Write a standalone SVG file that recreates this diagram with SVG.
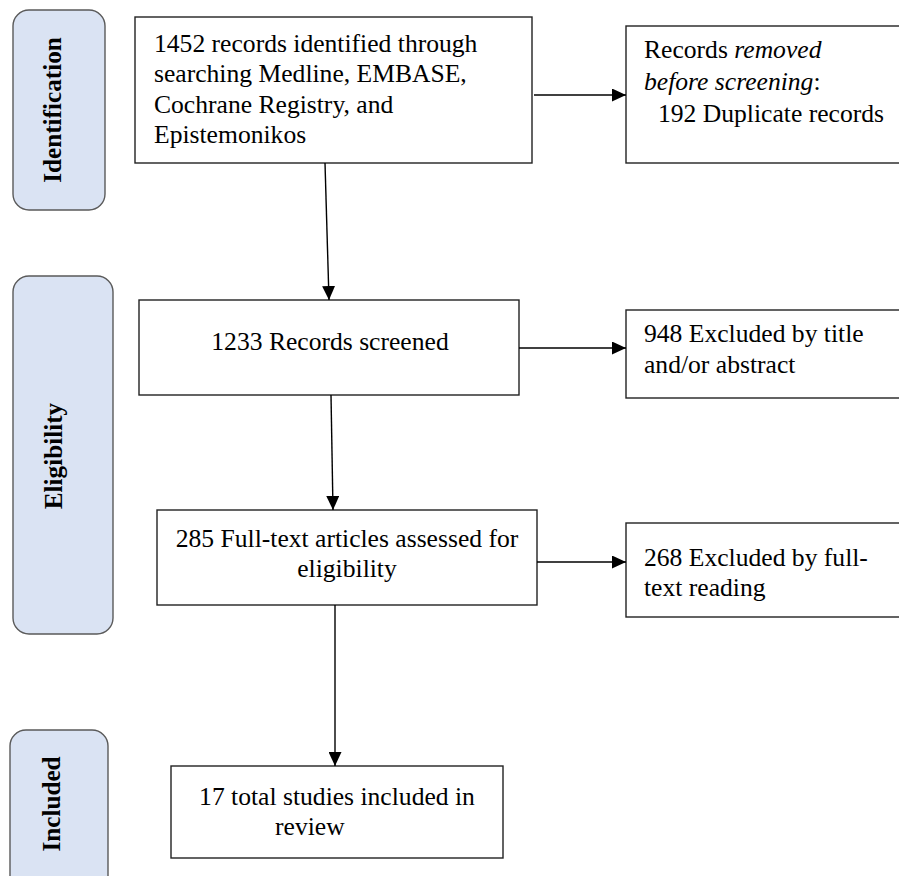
<svg xmlns="http://www.w3.org/2000/svg" width="899" height="876" viewBox="0 0 899 876">
<style>
.box{fill:#fff;stroke:#222;stroke-width:1.4}
.side{fill:#dae3f3;stroke:#5a5a5a;stroke-width:1.4}
.t{font-family:'Liberation Serif','Times New Roman',serif;font-size:25.6px;fill:#000}
.st{font-family:'Liberation Serif','Times New Roman',serif;font-size:25.2px;font-weight:bold;fill:#000}
.c{text-anchor:middle}
.con{stroke:#000;stroke-width:1.4;fill:none;marker-end:url(#ah)}
</style>
<defs>
<marker id="ah" viewBox="0 0 14 13" refX="14" refY="6.5" markerWidth="14" markerHeight="13" markerUnits="userSpaceOnUse" orient="auto">
<path d="M0,0 L14,6.5 L0,13 Z" fill="#000"/>
</marker>
</defs>
<g id="stage-identification">
<rect class="side" x="13" y="10" width="92" height="200" rx="16"/>
<text class="st c" transform="translate(61,110) rotate(-90)">Identification</text>
</g>
<g id="stage-eligibility">
<rect class="side" x="13" y="276" width="100" height="358" rx="16"/>
<text class="st c" transform="translate(62,456) rotate(-90)">Eligibility</text>
</g>
<g id="stage-included">
<rect class="side" x="10" y="730" width="98" height="170" rx="16"/>
<text class="st c" transform="translate(60,804) rotate(-90)">Included</text>
</g>
<g id="identified">
<rect class="box" x="135" y="17" width="397" height="146"/>
<text class="t" x="154" y="52">1452 records identified through</text>
<text class="t" x="154" y="82">searching Medline, EMBASE,</text>
<text class="t" x="154" y="113">Cochrane Registry, and</text>
<text class="t" x="154" y="143">Epistemonikos</text>
</g>
<g id="removed">
<rect class="box" x="626" y="26" width="290" height="137"/>
<text class="t" x="644" y="58">Records <tspan font-style="italic">removed</tspan></text>
<text class="t" x="644" y="90"><tspan font-style="italic">before screening</tspan>:</text>
<text class="t" x="658" y="122">192 Duplicate records</text>
</g>
<g id="screened">
<rect class="box" x="139" y="300" width="380" height="95"/>
<text class="t c" x="330" y="350">1233 Records screened</text>
</g>
<g id="excluded-title">
<rect class="box" x="626" y="310" width="290" height="88"/>
<text class="t" x="644" y="342">948 Excluded by title</text>
<text class="t" x="644" y="373">and/or abstract</text>
</g>
<g id="fulltext">
<rect class="box" x="157" y="510" width="380" height="95"/>
<text class="t c" x="347" y="547">285 Full-text articles assessed for</text>
<text class="t c" x="347" y="577">eligibility</text>
</g>
<g id="excluded-fulltext">
<rect class="box" x="626" y="523" width="290" height="94"/>
<text class="t" x="644" y="566">268 Excluded by full-</text>
<text class="t" x="644" y="596">text reading</text>
</g>
<g id="included">
<rect class="box" x="171" y="766" width="332" height="92"/>
<text class="t c" x="337" y="805">17 total studies included in</text>
<text class="t" x="275" y="835">review</text>
</g>
<g id="connectors">
<line class="con" x1="534" y1="95" x2="626" y2="95"/>
<line class="con" x1="325" y1="163" x2="329" y2="300"/>
<line class="con" x1="519" y1="348" x2="626" y2="348"/>
<line class="con" x1="331" y1="395" x2="333" y2="510"/>
<line class="con" x1="537" y1="562" x2="626" y2="562"/>
<line class="con" x1="335" y1="605" x2="335" y2="766"/>
</g>
</svg>
